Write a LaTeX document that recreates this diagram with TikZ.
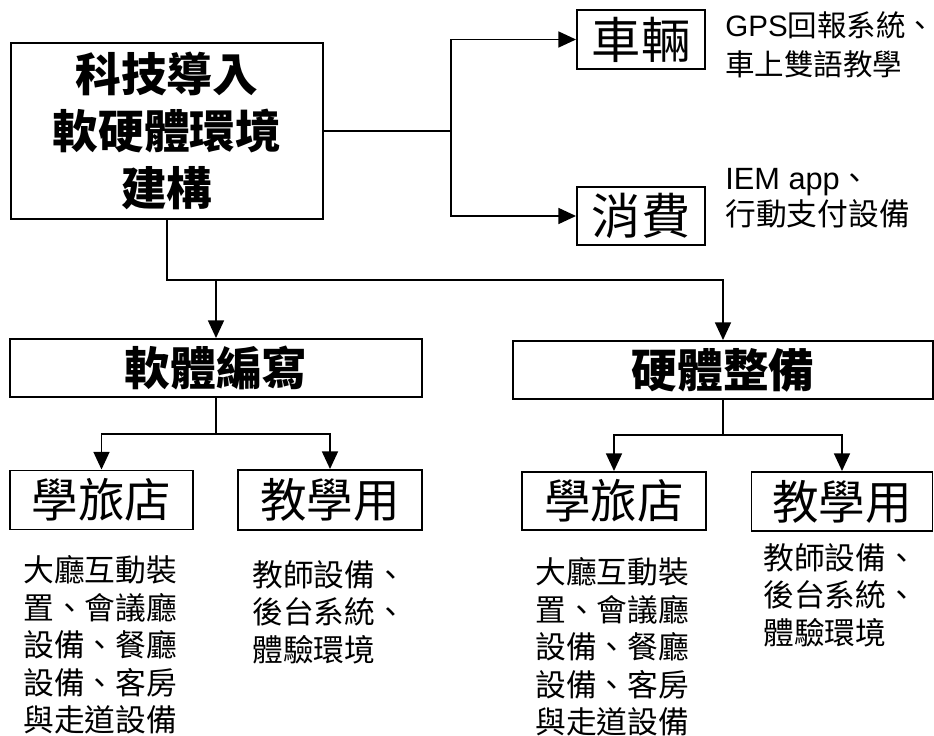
\documentclass[tikz,border=0pt]{standalone}
\usepackage{fontspec}
\setmainfont{Noto Sans CJK TC}
\newfontfamily\latin{Liberation Sans}
\usetikzlibrary{arrows.meta,positioning}

\tikzset{
	box/.style={draw, line width=1.1pt, inner sep=0pt, align=center},
	link/.style={line width=1.1pt},
	arr/.style={link, -{Triangle[length=10pt,width=9pt]}},
	note/.style={inner sep=0pt, align=left, anchor=west, font=\fontsize{17.5}{21.3}\selectfont},
	big/.style={font=\fontsize{26.5}{32}\selectfont},
	bigbold/.style={font=\fontsize{26}{32.5}\selectfont\bfseries},
}

\begin{document}
\begin{tikzpicture}[x=0.02cm, y=-0.02cm]
	\useasboundingbox (0,0) rectangle (934,736);

	\coordinate (m) at (167,131);
	\coordinate (j1) at (451,131);
	\coordinate (j2) at (167,280);
	\coordinate (j3) at (216,434);
	\coordinate (j4) at (723,435);

	\node[box, bigbold, minimum width=6.24cm, minimum height=3.52cm] (main) at (m) {科技導入\\軟硬體環境\\建構};
	\node[box, big, font=\fontsize{28}{32}\selectfont, minimum width=2.56cm, minimum height=1.17cm] (car) at (641,39.5) {車輛};
	\node[box, big, font=\fontsize{28}{32}\selectfont, minimum width=2.56cm, minimum height=1.16cm] (pay) at (641,216) {消費};

	\node[box, bigbold, minimum width=8.24cm, minimum height=1.16cm] (soft) at (216,368) {軟體編寫};
	\node[box, bigbold, minimum width=8.4cm, minimum height=1.16cm] (hard) at (723,370) {硬體整備};

	\node[box, big, minimum width=3.66cm, minimum height=1.18cm] (softhotel) at (101.5,500) {學旅店};
	\node[box, big, minimum width=3.68cm, minimum height=1.2cm] (softteach) at (330,500) {教學用};
	\node[box, big, minimum width=3.68cm, minimum height=1.16cm] (hardhotel) at (614,501) {學旅店};
	\node[box, big, minimum width=3.62cm, minimum height=1.18cm] (hardteach) at (842,501.5) {教學用};

	\node[note, font=\fontsize{16.8}{22}\selectfont] (carnote) at (725,44.5) {{\latin GPS}回報系統、\\車上雙語教學};
	\node[note, font=\fontsize{17.5}{20.5}\selectfont] (paynote) at (725,198) {{\latin IEM app}、\\行動支付設備};
	\node[note] (softhotelnote) at (23,645) {大廳互動裝\\置、會議廳\\設備、餐廳\\設備、客房\\與走道設備};
	\node[note] (softteachnote) at (252,612) {教師設備、\\後台系統、\\體驗環境};
	\node[note] (hardhotelnote) at (535,647) {大廳互動裝\\置、會議廳\\設備、餐廳\\設備、客房\\與走道設備};
	\node[note] (hardteachnote) at (763,595) {教師設備、\\後台系統、\\體驗環境};

	\draw[link] (main.east) -- (j1);
	\draw[arr] (j1) |- (car.west);
	\draw[arr] (j1) |- (pay.west);

	\draw[arr] (main.south) -- (j2) -| (hard.north);
	\draw[arr] (j2 -| soft.north) -- (soft.north);

	\draw[link] (soft.south) -- (j3);
	\draw[arr] (j3) -| (softhotel.north);
	\draw[arr] (j3) -| (softteach.north);

	\draw[link] (hard.south) -- (j4);
	\draw[arr] (j4) -| (hardhotel.north);
	\draw[arr] (j4) -| (hardteach.north);
\end{tikzpicture}
\end{document}
